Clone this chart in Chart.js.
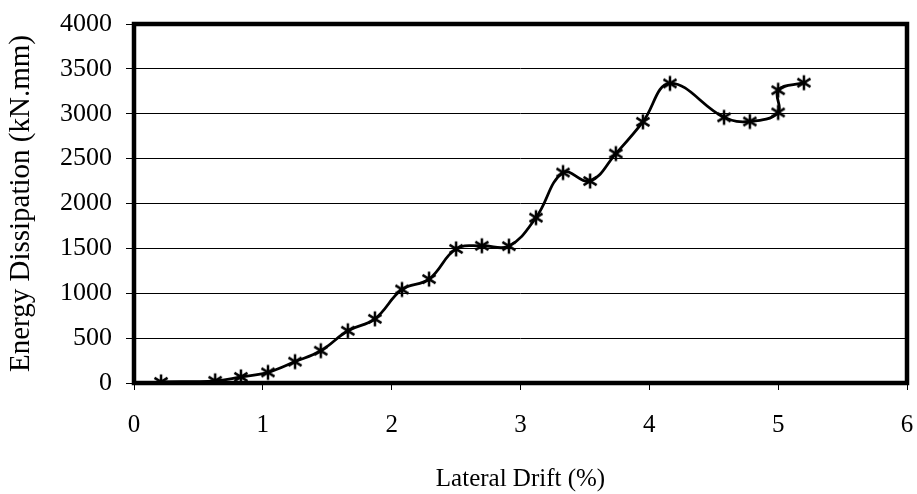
<!DOCTYPE html>
<html>
<head>
<meta charset="utf-8">
<script src="https://cdn.jsdelivr.net/npm/chart.js@4"></script>
<style>
  html, body { margin: 0; padding: 0; background: #fff; }
  #wrap { width: 917px; height: 494px; }
</style>
</head>
<body>
<div id="wrap"><canvas id="chart" width="917" height="494"></canvas></div>
<script>
// Lateral drift (%) and cumulative energy dissipation (kN.mm)
const drift = [0.21, 0.63, 0.83, 1.04, 1.25, 1.45, 1.66, 1.87, 2.08, 2.29, 2.50, 2.70,
  2.91, 3.12, 3.33, 3.54, 3.74, 3.95, 4.16, 4.58, 4.78, 5.00, 5.00, 5.20];
const energy = [12, 24, 68, 118, 238, 360, 582, 715, 1042, 1158, 1494, 1529,
  1525, 1842, 2345, 2250, 2556, 2910, 3338, 2960, 2914, 3014, 3262, 3346];

const xTicks = [0, 1, 2, 3, 4, 5, 6];
const yTicks = [0, 500, 1000, 1500, 2000, 2500, 3000, 3500, 4000];

const FONT = "'Liberation Serif', 'Times New Roman', serif";

// asterisk-style marker: vertical bar plus an X
function makeStar(size) {
  const c = document.createElement("canvas");
  c.width = size;
  c.height = size;
  const g = c.getContext("2d");
  const m = size / 2;
  const r = size / 2 - 1.5;
  g.strokeStyle = "#000";
  g.lineWidth = 2.5;
  g.beginPath();
  g.moveTo(m, m - r);
  g.lineTo(m, m + r);
  g.moveTo(m - r * 0.87, m - r * 0.55);
  g.lineTo(m + r * 0.87, m + r * 0.55);
  g.moveTo(m - r * 0.87, m + r * 0.55);
  g.lineTo(m + r * 0.87, m - r * 0.55);
  g.stroke();
  return c;
}

// thick box around the plot area
const frame = {
  id: "frame",
  afterDatasetsDraw(chart) {
    const { ctx, chartArea: a } = chart;
    ctx.save();
    ctx.strokeStyle = "#000";
    ctx.lineWidth = 4.5;
    ctx.strokeRect(a.left, a.top, a.right - a.left, a.bottom - a.top);
    ctx.restore();
  },
};

const points = drift.map((x, i) => ({ x: x, y: energy[i] }));

new Chart(document.getElementById("chart"), {
  type: "line",
  data: {
    datasets: [{
      data: points,
      borderColor: "#000",
      borderWidth: 2.8,
      tension: 0.4,
      pointStyle: makeStar(18),
      pointRadius: 9,
      fill: false,
    }],
  },
  plugins: [frame],
  options: {
    responsive: false,
    animation: false,
    layout: { autoPadding: false, padding: { left: 0, right: 10, top: 24, bottom: 0 } },
    plugins: { legend: { display: false }, tooltip: { enabled: false } },
    scales: {
      x: {
        type: "linear",
        min: 0,
        max: 6,
        afterFit(scale) {
          scale.height = 111;
          scale.paddingLeft = 0;
          scale.paddingRight = 0;
        },
        afterBuildTicks(scale) { scale.ticks = xTicks.map(v => ({ value: v })); },
        ticks: {
          color: "#000",
          font: { family: FONT, size: 25 },
          padding: 20,
          maxRotation: 0,
          callback: (v) => String(v),
        },
        grid: { drawOnChartArea: false, color: "#000", tickLength: 7, lineWidth: 1 },
        border: { display: false },
        title: {
          display: true,
          text: "Lateral Drift (%)",
          color: "#000",
          font: { family: FONT, size: 25 },
          padding: { top: 0, bottom: 0 },
        },
      },
      y: {
        min: 0,
        max: 4000,
        afterFit(scale) {
          scale.width = 134;
          scale.paddingTop = 0;
          scale.paddingBottom = 0;
        },
        afterBuildTicks(scale) { scale.ticks = yTicks.map(v => ({ value: v })); },
        ticks: {
          color: "#000",
          font: { family: FONT, size: 26 },
          padding: 14,
          callback: (v) => String(v),
        },
        grid: { color: "#000", tickLength: 8, lineWidth: 1 },
        border: { display: false },
        title: {
          display: true,
          text: "Energy Dissipation (kN.mm)",
          color: "#000",
          font: { family: FONT, size: 29 },
          padding: { top: 4, bottom: 0 },
        },
      },
    },
  },
});
</script>
</body>
</html>
